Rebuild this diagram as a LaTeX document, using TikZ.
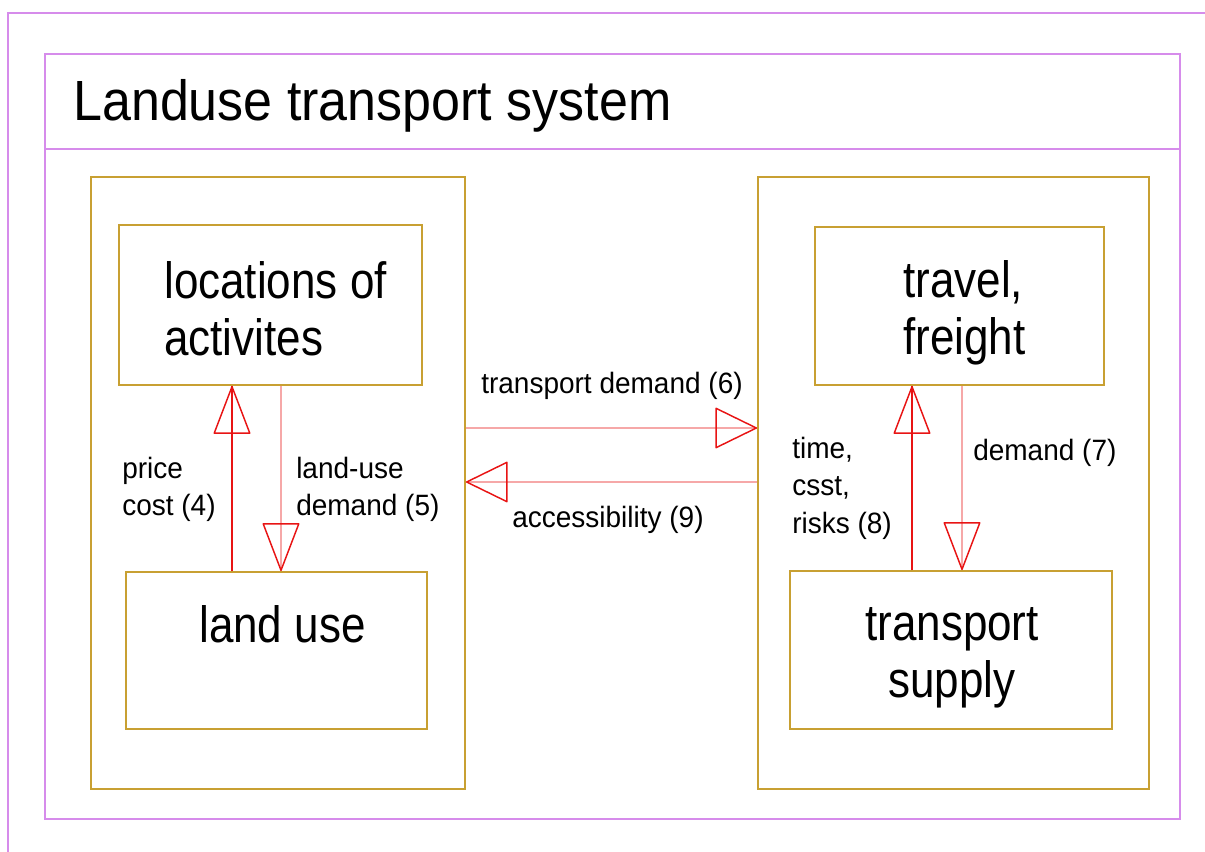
\documentclass[tikz,border=0pt]{standalone}
\usepackage{graphicx}
\usepackage{fontspec}
\setmainfont{Liberation Sans}
\usetikzlibrary{arrows.meta}
\definecolor{frm}{RGB}{214,140,235}
\definecolor{gld}{RGB}{200,160,50}
\definecolor{rd}{RGB}{232,20,20}
\definecolor{pk}{RGB}{246,168,168}
\newcommand{\bxtext}[2]{\scalebox{1}[1.16]{\fontsize{33}{37}\selectfont\begin{tabular}[t]{@{}#1@{}}#2\end{tabular}}}
\newcommand{\lbtext}[1]{\scalebox{1}[1.05]{\fontsize{21}{26.8}\selectfont\begin{tabular}[t]{@{}l@{}}#1\end{tabular}}}
\begin{document}
\begin{tikzpicture}[x=0.75pt,y=-0.75pt,
  frame/.style={draw=frm,line width=1.5pt},
  gbox/.style={draw=gld,line width=1.4pt,inner sep=0pt},
  txt/.style={inner sep=0pt},
  vtip/.style={-{Triangle[open,round,length=37pt,width=28pt,line width=1.1pt,color=rd]}},
  htip/.style={-{Triangle[open,round,length=32pt,width=31pt,line width=1.1pt,color=rd]}},
  darkshaft/.style={draw=rd,line width=1.4pt},
  lightshaft/.style={draw=pk,line width=1.6pt}]
\useasboundingbox (0,0) rectangle (1205,852);
% outer partial frame
\draw[frame] (8,852) -- (8,13) -- (1205,13);
% inner frame
\node[frame,inner sep=0pt,minimum width=851.25pt,minimum height=573.75pt] (sys) at (612.5,436.5) {};
\coordinate (sepy) at (0,149);
\draw[frame] (sys.west |- sepy) -- (sys.east |- sepy);
\node[txt,anchor=base west] (title) at (73,120.5)
  {\scalebox{1}[1.09]{\fontsize{39}{46}\selectfont Landuse transport system}};
% big boxes
\node[gbox,minimum width=280.5pt,minimum height=459pt] (lbig) at (278,483) {};
\node[gbox,minimum width=293.25pt,minimum height=459pt] (rbig) at (953.5,483) {};
% inner boxes
\node[gbox,minimum width=227.25pt,minimum height=120pt] (loc) at (270.5,305) {};
\node[gbox,minimum width=225.75pt,minimum height=117.75pt] (luse) at (276.5,650.5) {};
\node[gbox,minimum width=216.75pt,minimum height=118.5pt] (trav) at (959.5,306) {};
\node[gbox,minimum width=241.5pt,minimum height=118.5pt] (sup) at (951,650) {};
% box texts
\node[txt,anchor=base west] (loctext) at (164,298) {\bxtext{l}{locations of\\activites}};
\node[txt,anchor=base west] (lusetext) at (199,642) {\bxtext{l}{land use}};
\node[txt,anchor=base west] (travtext) at (903,297) {\bxtext{l}{travel,\\freight}};
\node[txt,anchor=base] (suptext) at (952,640) {\bxtext{c}{transport\\supply}};
% x / y positions of connectors
\coordinate (x4) at (232,0);
\coordinate (x5) at (281,0);
\coordinate (x8) at (912,0);
\coordinate (x7) at (962,0);
\coordinate (y6) at (0,428);
\coordinate (y9) at (0,482);
% (4) price cost
\draw[darkshaft] (luse.north -| x4) -- (loc.south -| x4);
\draw[darkshaft,vtip] (luse.north -| x4) -- (loc.south -| x4);
% (5) land-use demand
\draw[lightshaft] (loc.south -| x5) -- (luse.north -| x5);
\draw[lightshaft,vtip] (loc.south -| x5) -- (luse.north -| x5);
% (6) transport demand
\draw[lightshaft] (lbig.east |- y6) -- (rbig.west |- y6);
\draw[lightshaft,htip] (lbig.east |- y6) -- (rbig.west |- y6);
% (9) accessibility
\draw[lightshaft] (rbig.west |- y9) -- (lbig.east |- y9);
\draw[lightshaft,htip] (rbig.west |- y9) -- (lbig.east |- y9);
% (8) time, csst, risks
\draw[darkshaft] (sup.north -| x8) -- (trav.south -| x8);
\draw[darkshaft,vtip] (sup.north -| x8) -- (trav.south -| x8);
% (7) demand
\draw[lightshaft] (trav.south -| x7) -- (sup.north -| x7);
\draw[lightshaft,vtip] (trav.south -| x7) -- (sup.north -| x7);
% labels
\node[txt,anchor=base west] (l4) at (122,478) {\lbtext{price\\cost (4)}};
\node[txt,anchor=base west] (l5) at (296,478) {\lbtext{land-use\\demand (5)}};
\node[txt,anchor=base west] (l6) at (481,393) {\lbtext{transport demand (6)}};
\node[txt,anchor=base west] (l9) at (512,527) {\lbtext{accessibility (9)}};
\node[txt,anchor=base west] (l8) at (792,458) {\lbtext{time,\\csst,\\risks (8)}};
\node[txt,anchor=base west] (l7) at (973,460) {\lbtext{demand (7)}};
\end{tikzpicture}
\end{document}
